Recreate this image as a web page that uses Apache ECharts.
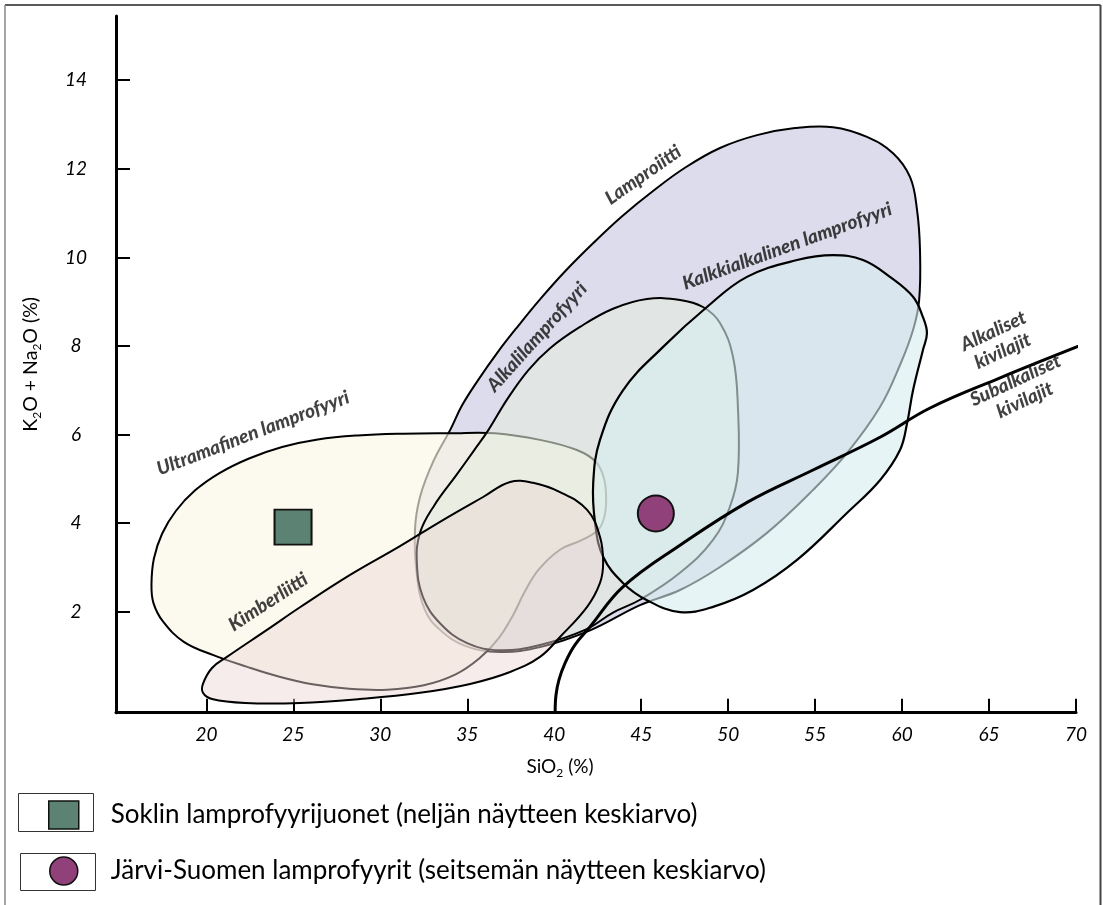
<!DOCTYPE html>
<html><head><meta charset="utf-8">
<script src="https://cdn.jsdelivr.net/npm/echarts@6/dist/echarts.min.js"></script>
<style>html,body{margin:0;padding:0;background:#fff}#c{width:1103px;height:905px}</style>
</head><body><div id="c"></div>
<script>
// Axis tick labels
const xTicks = [20, 25, 30, 35, 40, 45, 50, 55, 60, 65, 70];
const yTicks = [2, 4, 6, 8, 10, 12, 14];

// Region outlines [SiO2, K2O+Na2O]
const lamproiittiPts = [[34.01,6.10],[34.70,6.66],[35.62,7.23],[36.71,7.84],[37.92,8.45],[39.24,9.08],[40.68,9.71],[42.23,10.32],[43.90,10.93],[45.68,11.50],[47.58,12.04],[49.53,12.47],[51.66,12.76],[53.84,12.92],[56.03,12.94],[57.98,12.72],[59.48,12.35],[60.46,11.81],[60.86,11.07],[61.03,10.16],[60.98,9.03],[60.63,8.36],[59.88,7.57],[58.73,6.62],[56.83,5.58],[54.88,4.75],[52.23,3.78],[49.53,3.01],[47.23,2.49],[44.93,2.15],[42.06,1.58],[39.18,1.20],[36.88,1.09],[34.87,1.23],[33.43,1.59],[32.56,2.04],[32.10,2.83],[31.99,3.84],[32.28,4.59],[33.05,5.40]];
const ultramafinenPts = [[16.84,2.62],[16.98,3.20],[17.45,3.76],[18.25,4.28],[19.35,4.74],[20.75,5.13],[22.45,5.46],[24.35,5.72],[26.40,5.89],[28.70,5.98],[31.30,6.02],[34.00,6.03],[36.60,6.03],[39.18,5.88],[41.30,5.65],[42.40,5.38],[42.85,5.02],[42.98,4.60],[42.90,4.18],[42.55,3.86],[41.60,3.62],[40.33,3.40],[39.10,2.95],[38.30,2.45],[37.60,1.90],[36.80,1.40],[35.70,0.95],[34.30,0.58],[32.50,0.34],[30.40,0.24],[28.20,0.26],[26.10,0.36],[24.20,0.53],[22.30,0.76],[20.40,1.02],[18.70,1.32],[17.50,1.78],[16.95,2.20]];
const alkaliPts = [[36.21,6.10],[37.30,6.80],[38.50,7.45],[39.76,7.95],[41.48,8.43],[43.38,8.84],[45.33,9.06],[47.23,9.04],[48.55,8.88],[49.53,8.52],[50.28,7.75],[50.56,6.62],[50.56,5.14],[50.10,4.37],[49.13,3.62],[47.23,2.88],[44.93,2.27],[43.38,1.98],[41.77,1.59],[39.18,1.25],[36.88,1.13],[34.99,1.29],[33.43,1.74],[32.45,2.33],[32.10,3.10],[32.28,3.78],[33.10,4.40],[34.40,5.10],[35.40,5.65]];
const kalkkiPts = [[56.03,10.05],[57.75,9.94],[59.30,9.56],[60.63,9.11],[61.20,8.65],[61.43,8.29],[61.20,7.91],[60.63,7.00],[60.29,6.26],[59.88,5.65],[58.73,4.97],[56.83,4.23],[53.96,3.17],[51.43,2.49],[49.13,2.11],[47.23,1.99],[45.33,2.26],[43.95,2.65],[42.81,3.24],[42.35,4.00],[42.24,4.91],[42.63,5.88],[43.95,7.00],[46.26,7.98],[48.78,8.88],[51.08,9.56],[53.96,9.94]];
const kimberliittiPts = [[19.80,0.37],[20.32,0.73],[21.18,0.98],[23.48,1.59],[25.38,2.10],[28.26,2.83],[31.13,3.48],[33.43,4.03],[35.91,4.59],[37.46,4.93],[38.78,4.91],[40.33,4.70],[41.89,4.30],[42.63,3.69],[42.81,3.10],[42.63,2.65],[41.89,2.11],[40.33,1.43],[39.18,0.98],[37.46,0.64],[35.16,0.37],[32.28,0.17],[28.83,0.03],[25.38,-0.06],[22.22,-0.06],[20.32,0.03],[19.80,0.17]];

// Alkaline / subalkaline divider
const dividerX = [40.05, 40.10, 40.27, 40.62, 41.19, 42.06, 43.95, 47.23, 51.14, 54.88, 58.73, 61.61, 65.64, 70.64];
const dividerY = [-0.26, 0.12, 0.46, 0.84, 1.25, 1.66, 2.56, 3.50, 4.48, 5.20, 5.94, 6.60, 7.28, 8.07];

// Sample averages
const sokliPoint = [[24.98, 3.91]];
const jarviPoint = [[45.84, 4.22]];
const legendNames = ['Soklin lamprofyyrijuonet (neljän näytteen keskiarvo)', 'Järvi-Suomen lamprofyyrit (seitsemän näytteen keskiarvo)'];

// Region labels
const regionLabelText = ['Ultramafinen lamprofyyri', 'Kimberliitti', 'Lamproiitti', 'Alkalilamprofyyri', 'Kalkkialkalinen lamprofyyri', 'Alkaliset\nkivilajit', 'Subalkaliset\nkivilajit'];
const regionLabelX = [22.68, 23.55, 45.11, 39.01, 53.39, 65.52, 66.79];
const regionLabelY = [6.03, 2.22, 11.86, 8.20, 10.25, 8.11, 7.00];
const regionLabelRot = [21, 33, 35, 48, 20, 25, 25];

function regionSeries(name, pts, fill, stroke, lw, z) {
  return {
    type: 'custom', name: name, coordinateSystem: 'cartesian2d', silent: true, clip: false, z: z,
    data: pts, encode: { x: 0, y: 1 },
    renderItem: function (params, api) {
      if (params.dataIndex !== 0) return null;
      const points = pts.map(function (p) { return api.coord(p); });
      return { type: 'polygon', shape: { points: points, smooth: 0.4 },
        style: { fill: fill, stroke: stroke, lineWidth: lw, lineJoin: 'round' } };
    }
  };
}

const chart = echarts.init(document.getElementById('c'), null, { renderer: 'canvas' });
const labelFont = { fontFamily: 'Lato', fontStyle: 'italic', fontSize: 19, color: '#000' };
const subStyle = { fontFamily: 'Lato', fontSize: 12, lineHeight: 12, verticalAlign: 'bottom', color: '#000' };
chart.setOption({
  animation: false,
  backgroundColor: '#fff',
  grid: { left: 116, right: 27, top: 16, bottom: 192.3, containLabel: false },
  xAxis: {
    type: 'value', min: 14.8, max: 70,
    axisLine: { onZero: false, lineStyle: { color: '#000', width: 3 } },
    axisTick: { inside: true, length: 14, customValues: xTicks, lineStyle: { color: '#000', width: 2 } },
    axisLabel: Object.assign({ customValues: xTicks, margin: 13 }, labelFont),
    splitLine: { show: false },
    name: 'SiO{sub|2} (%)', nameLocation: 'middle', nameGap: 42,
    nameTextStyle: { fontFamily: 'Lato', fontSize: 19, color: '#000', lineHeight: 24, padding: [0, 72, 0, 0],
      rich: { sub: subStyle } }
  },
  yAxis: {
    type: 'value', min: -0.28, max: 15.45,
    axisLine: { onZero: false, lineStyle: { color: '#000', width: 3 } },
    axisTick: { inside: true, length: 14, customValues: yTicks, lineStyle: { color: '#000', width: 2 } },
    axisLabel: Object.assign({ customValues: yTicks, margin: 40, align: 'center' }, labelFont),
    splitLine: { show: false },
    name: 'K{sub|2}O + Na{sub|2}O (%)', nameLocation: 'middle', nameGap: 73,
    nameTextStyle: { fontFamily: 'Lato', fontSize: 19.5, color: '#000', lineHeight: 24,
      rich: { sub: subStyle } }
  },
  legend: {
    data: [{ name: legendNames[0], icon: 'rect' }, { name: legendNames[1], icon: 'circle' }],
    orient: 'vertical', left: 48, top: 797, padding: 0, itemWidth: 30, itemHeight: 28, itemGap: 20,
    selectedMode: false,
    itemStyle: { borderColor: '#111', borderWidth: 1.5 },
    textStyle: { fontFamily: 'Lato', fontSize: 26, lineHeight: 28, color: '#000', padding: [0, 0, 8, 27] }
  },
  graphic: [
    { type: 'line', z: 0, shape: { x1: 5, y1: 5, x2: 1100.5, y2: 5 }, style: { stroke: '#222', lineWidth: 1.5 } },
    { type: 'line', z: 0, shape: { x1: 5, y1: 5, x2: 5, y2: 905 }, style: { stroke: '#888', lineWidth: 1.5 } },
    { type: 'line', z: 0, shape: { x1: 1100.5, y1: 5, x2: 1100.5, y2: 905 }, style: { stroke: '#444', lineWidth: 2 } },
    { type: 'rect', z: 0, shape: { x: 18.5, y: 793.5, width: 75, height: 38 }, style: { fill: 'none', stroke: '#333', lineWidth: 1 } },
    { type: 'rect', z: 0, shape: { x: 20.5, y: 853.5, width: 75, height: 37 }, style: { fill: 'none', stroke: '#333', lineWidth: 1 } }
  ],
  series: [
    regionSeries('Lamproiitti', lamproiittiPts, 'rgba(220,220,236,1)', '#000', 2, 1),
    regionSeries('Ultramafinen lamprofyyri', ultramafinenPts, 'rgba(251,248,229,0.65)', '#000', 2, 1),
    regionSeries('Alkalilamprofyyri', alkaliPts, 'rgba(230,237,222,0.58)', '#000', 2, 1),
    regionSeries('Kalkkialkalinen lamprofyyri', kalkkiPts, 'rgba(215,236,238,0.6)', '#000', 2.2, 1),
    regionSeries('Kimberliitti', kimberliittiPts, 'rgba(235,213,213,0.45)', '#000', 2, 1),
    {
      type: 'line', name: 'raja', silent: true, clip: false, z: 4,
      data: dividerX.map(function (x, i) { return [x, dividerY[i]]; }),
      smooth: 0.4, symbol: 'none', lineStyle: { color: '#000', width: 3 }
    },
    {
      type: 'scatter', name: legendNames[0], data: sokliPoint, symbol: 'rect', symbolSize: [37, 35], z: 5,
      itemStyle: { color: '#5b8272', borderColor: '#111', borderWidth: 2, opacity: 1 }
    },
    {
      type: 'scatter', name: legendNames[1], data: jarviPoint, symbol: 'circle', symbolSize: 36, z: 5,
      itemStyle: { color: '#91417a', borderColor: '#111', borderWidth: 2, opacity: 1 }
    },
    {
      type: 'scatter', name: 'nimet', silent: true, z: 6, symbolSize: 1, itemStyle: { color: 'rgba(0,0,0,0)' },
      data: regionLabelText.map(function (t, i) {
        return { value: [regionLabelX[i], regionLabelY[i]], label: { formatter: t, rotate: regionLabelRot[i] } };
      }),
      label: { show: true, position: 'inside', fontFamily: 'Lato', fontWeight: 900, fontStyle: 'italic',
        fontSize: 19, color: '#111', lineHeight: 22, align: 'center', verticalAlign: 'middle' }
    }
  ]
});
</script></body></html>
